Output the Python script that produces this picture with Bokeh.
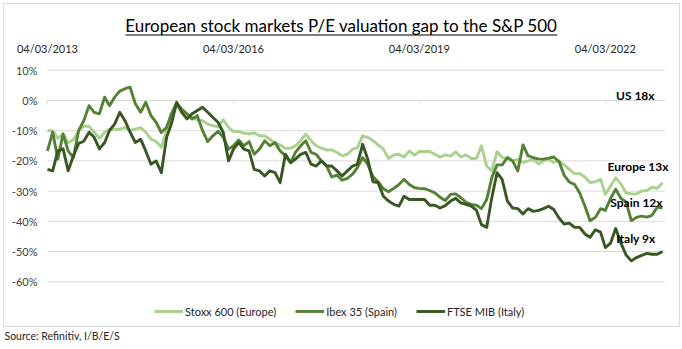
import pandas as pd
from bokeh.plotting import figure
from bokeh.models import Range1d, Legend, LegendItem, Label, BoxAnnotation, Title
from bokeh.core.properties import value
from bokeh.embed import file_html
from bokeh.resources import INLINE

# ---------------- data (P/E gap to S&P 500, %) ----------------
start_date = "2013-03-04"
stoxx = [
    -10, -10, -12.5, -11, -14, -13, -10, -8.5, -8.5, -10.5,
    -12.5, -10.5, -9.5, -9.5, -9.5, -9, -10, -9.5, -9, -10.5,
    -12.8, -13.5, -15.5, -10, -6, -1.5, -3.5, -4.5, -5.5, -6.5,
    -6.7, -7.8, -8.3, -8.7, -6.4, -8.9, -10.3, -10.2, -10.8, -11.1,
    -10.7, -11.7, -11.7, -12.8, -14.2, -14.7, -15.8, -15.8, -15, -13.3,
    -11.1, -13.3, -15, -15.8, -16.4, -16.4, -17.2, -18.3, -17.8, -16.1,
    -15.6, -11.7, -12.2, -13.3, -14.7, -16.1, -19.2, -18, -17.8, -18.7,
    -16.7, -18.1, -16.9, -16.9, -16.9, -17.8, -18.7, -18, -18.4, -17,
    -18.7, -18, -19.2, -19.1, -15, -21.7, -23.3, -16.9, -18.9, -19.2,
    -20, -19.5, -20.5, -20, -19.5, -21, -20, -19.5, -20.5, -20,
    -21.3, -22.8, -24.2, -24.2, -25.3, -27.2, -26.9, -26.1, -31.1, -28.3,
    -25.6, -27.6, -30.6, -30.9, -30.9, -30, -29.8, -28.7, -29.1, -27.2,
]
ibex = [
    -16.7, -10.5, -19.4, -11.1, -16.7, -18.9, -9.8, -6.7, -1.7, -3.9,
    -4.4, 1.1, -1.7, 1.1, 3.1, 3.9, 4.4, -1.1, -3.9, -0.6,
    -5, -7.2, -10.6, -8.9, -4.4, -0.9, -2.8, -4.4, -6.1, -5,
    -10, -13.6, -11.7, -10.2, -12.2, -16.1, -15, -13.1, -15, -13.6,
    -17.8, -16.1, -13.3, -15, -13.9, -16.7, -18.3, -20.6, -17.2, -15,
    -13.3, -17.2, -17.8, -20, -21.7, -25.3, -24.7, -26.4, -25.8, -24.4,
    -22.2, -18.9, -21.1, -25.3, -26.9, -29.2, -30.2, -29.1, -27.8, -26.1,
    -27.8, -28.9, -29.1, -29.2, -29.8, -30.6, -32, -33.1, -31.1, -30.9,
    -32.2, -33.7, -34.4, -34.7, -35.8, -32.8, -25.6, -21.3, -21.3, -18.9,
    -20, -23.3, -14.7, -18.3, -18.9, -19.4, -19.4, -19.1, -18.7, -20.2,
    -24.7, -27, -27.8, -30.6, -35, -39.8, -38.7, -35.8, -36.4, -32.4,
    -29.4, -32.4, -33.6, -39.8, -38.7, -38.3, -38.6, -38, -35.3, -35.6,
]
italy = [
    -22.8, -23.3, -16.7, -16, -23.3, -18.3, -14.2, -13.5, -10.5, -12.2,
    -16, -13.9, -10, -7.8, -3.9, -6.7, -10.5, -13.9, -12.8, -16.7,
    -21.1, -20, -23.9, -12.2, -7.8, -0.6, -3.9, -6.1, -4.4, -3.3,
    -2.2, -3.9, -5.6, -7.2, -10.6, -20, -16.1, -13.9, -16.1, -16.7,
    -22.8, -23.3, -25, -23.3, -23.9, -27.2, -17.8, -20.6, -19.4, -17.8,
    -17.2, -21.1, -21.7, -20, -21.7, -21.7, -23.3, -25, -23.3, -21.7,
    -21.1, -14.5, -19.4, -26.9, -27.2, -31.7, -33.3, -34.4, -35, -31.7,
    -32.8, -32.8, -32.8, -32.8, -34.7, -34.7, -35.6, -34.8, -33.3, -32.4,
    -33.9, -34.4, -35, -36.4, -41.1, -42, -32.2, -23.9, -26.1, -33.3,
    -35.6, -35.8, -37.6, -35.8, -36.7, -36.4, -35.8, -35, -36.1, -38.9,
    -40.9, -40.6, -42, -42, -44.2, -45.3, -42.8, -43.6, -48.7, -47.2,
    -42.4, -47.2, -51.1, -53.1, -52, -51.3, -50.6, -50.9, -50.9, -50,
]
series_names = ["Stoxx 600 (Europe)", "Ibex 35 (Spain)", "FTSE MIB (Italy)"]
x_tick_dates = ["2013-03-04", "2016-03-04", "2019-03-04", "2022-03-04"]
x_tick_labels = ["04/03/2013", "04/03/2016", "04/03/2019", "04/03/2022"]
y_ticks = [10, 0, -10, -20, -30, -40, -50, -60]
y_tick_labels = ["10%", "0%", "-10%", "-20%", "-30%", "-40%", "-50%", "-60%"]
end_labels = ["US  18x", "Europe 13x", "Spain  12x", "Italy  9x"]
title_text = "European stock markets P/E valuation gap to the S&P 500"
source_text = "Source: Refinitiv, I/B/E/S"

# ---------------- figure ----------------
# The plot frame is the bordered chart box; the data area sits inside it.
dates = pd.date_range(start_date, periods=len(stoxx), freq=pd.DateOffset(months=1))
colors = ["#A9D18E", "#548235", "#385723"]
FONT = "Lato"
t0 = pd.Timestamp(start_date)
data_end = pd.Timestamp("2023-02-21")

p = figure(width=682, height=349, output_backend="svg", toolbar_location=None,
           x_axis_location=None, y_axis_location=None,
           min_border_left=3, min_border_right=3, min_border_top=3, min_border_bottom=23,
           x_range=Range1d(t0 - pd.Timedelta(days=259), t0 + pd.Timedelta(days=3724)),
           y_range=Range1d(-74.83, 32.12))
p.grid.visible = False
p.outline_line_color = "#D9D9D9"
p.outline_line_width = 1
p.background_fill_color = "white"
p.border_fill_color = "white"

tick_x = [pd.Timestamp(d) for d in x_tick_dates]
n_y = len(y_ticks)

# horizontal gridlines over the data area
p.segment(x0=[t0] * n_y, x1=[data_end] * n_y, y0=y_ticks, y1=y_ticks,
          line_color="#D9D9D9", line_width=1)
# small tick marks on the 0% line
p.segment(x0=tick_x, y0=[0] * len(tick_x), x1=tick_x, y1=[-1] * len(tick_x),
          line_color="#D9D9D9", line_width=1)

# y tick labels
p.text(x=[t0] * n_y, y=y_ticks, text=y_tick_labels, x_offset=-10,
       text_align="right", text_baseline="middle", text_font=value(FONT),
       text_font_size=value("11px"), text_color="#404040")
# x tick labels (shown at the top)
p.text(x=tick_x, y=[max(y_ticks)] * len(tick_x), text=x_tick_labels, y_offset=-22,
       text_align="center", text_baseline="middle", text_font=value(FONT),
       text_font_size=value("11px"), text_color="#262626")

renderers = []
for vals, col in zip([stoxx, ibex, italy], colors):
    r = p.line(dates, vals, line_color=col, line_width=2.9, line_join="round")
    renderers.append(r)

legend = Legend(items=[LegendItem(label=n, renderers=[r]) for n, r in zip(series_names, renderers)],
                orientation="horizontal", location=(151, 7),
                glyph_width=29, glyph_height=16, label_standoff=2, spacing=19,
                padding=4, margin=0, border_line_color=None, background_fill_alpha=0,
                label_text_font=FONT, label_text_font_size="11px", label_text_color="#262626")
p.add_layout(legend)

# title + underline
p.add_layout(Label(x=341, y=25, x_units="canvas", y_units="canvas", text=title_text,
                   text_align="center", text_baseline="middle", text_font=FONT,
                   text_font_size="17px", text_color="#000000"))
p.add_layout(BoxAnnotation(left=125, right=557, top=34, bottom=35,
                           left_units="canvas", right_units="canvas",
                           top_units="canvas", bottom_units="canvas",
                           fill_color="#000000", fill_alpha=1, line_alpha=0))

# end-of-line labels
label_pos = [(657, 95), (668, 166), (665, 202), (658, 238)]
for txt, (lx, ly) in zip(end_labels, label_pos):
    p.add_layout(Label(x=lx, y=ly, x_units="canvas", y_units="canvas", text=txt,
                       text_align="right", text_baseline="middle", text_font=FONT,
                       text_font_style="bold", text_font_size="12px", text_color="#000000"))

# source line below the box
p.add_layout(Title(text=source_text, align="left", offset=1, standoff=3,
                   text_font=FONT, text_font_size="10.5px", text_font_style="normal",
                   text_color="#262626"), "below")

open("out.html", "w").write(file_html(p, INLINE))
